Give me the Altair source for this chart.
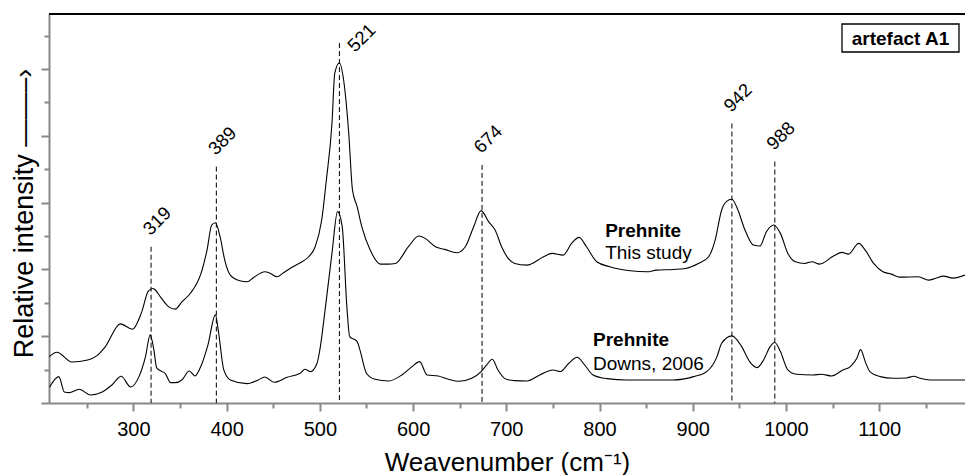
import altair as alt
import pandas as pd

# Raman spectrum of prehnite, this study: shift (cm-1) and intensity (a.u.)
study_shift = [210, 218, 234, 251, 261, 270, 286, 299, 309, 316, 321, 323, 329, 338, 345, 352, 361,
               373, 379, 384, 388, 393, 398, 404, 414, 422, 429, 441, 447, 454, 461, 468, 479, 488,
               495, 502, 507, 513, 516, 521, 525, 531, 535, 540, 545, 554, 565, 573, 581, 595, 606,
               613, 624, 634, 647, 656, 665, 673, 681, 688, 695, 702, 709, 722, 740, 749, 761, 770,
               778, 786, 797, 811, 833, 851, 861, 879, 892, 906, 917, 924, 931, 936, 942, 947, 956,
               965, 972, 979, 987, 994, 1002, 1010, 1020, 1028, 1036, 1051, 1060, 1067, 1078, 1085,
               1094, 1104, 1113, 1122, 1142, 1153, 1160, 1169, 1179, 1192]
study_int = [139, 152, 123, 129, 142, 169, 237, 221, 273, 335, 343, 340, 318, 288, 281, 303, 328,
             392, 458, 533, 540, 498, 428, 383, 366, 363, 376, 393, 388, 378, 390, 403, 420, 438,
             468, 548, 668, 837, 987, 1019, 977, 808, 638, 588, 528, 458, 416, 416, 418, 468, 500,
             493, 468, 460, 450, 468, 528, 576, 543, 518, 468, 433, 418, 413, 438, 448, 443, 478,
             496, 468, 423, 408, 396, 393, 398, 400, 403, 418, 438, 488, 578, 603, 610, 588, 518,
             473, 470, 513, 533, 508, 448, 423, 418, 423, 416, 440, 451, 446, 478, 458,
             418, 393, 386, 377, 378, 368, 373, 380, 374, 383]

# Reference spectrum of prehnite (Downs, 2006)
downs_shift = [210, 220, 226, 231, 242, 254, 266, 277, 287, 297, 306, 313, 318, 322, 325, 331, 334,
               340, 345, 352, 360, 366, 373, 380, 388, 391, 397, 404, 422, 434, 441, 451, 465, 479,
               484, 490, 497, 500, 506, 513, 519, 524, 529, 532, 540, 543, 550, 559, 574, 588, 599,
               607, 615, 627, 638, 649, 663, 673, 679, 685, 691, 700, 709, 722, 736, 750, 758, 767,
               776, 784, 793, 808, 829, 854, 879, 901, 915, 926, 931, 942, 952, 961, 969, 976, 983,
               988, 994, 1002, 1011, 1029, 1038, 1049, 1061, 1069, 1076, 1080, 1085, 1090, 1101,
               1115, 1129, 1137, 1144, 1154, 1192]
downs_int = [47, 79, 33, 31, 41, 24, 32, 54, 80, 48, 79, 139, 204, 159, 105, 94, 89,
             61, 61, 69, 96, 81, 114, 174, 264, 219, 99, 69, 58, 69, 78, 62, 77, 89,
             101, 94, 119, 159, 287, 448, 573, 528, 288, 199, 184, 159, 89, 71, 66, 84, 109,
             124, 84, 81, 71, 65, 74, 94, 114, 131, 99, 71, 67, 66, 84, 99, 94, 119,
             137, 114, 84, 73, 69, 69, 69, 79, 94, 139, 179, 201, 171, 124, 106, 129, 169,
             181, 154, 99, 86, 84, 86, 81, 99, 109, 134, 160, 124, 94, 79,
             74, 75, 80, 74, 69, 69]

# Marked band positions and the height of their guide lines
peak_pos = [319, 389, 521, 674, 942, 988]
peak_top = [468, 708, 1078, 713, 837, 723]

# Spectrum captions
cap_name = ["Prehnite", "Prehnite"]
cap_source = ["This study", "Downs, 2006"]
cap_x = [806, 793]
cap_name_y = [496, 171]
cap_source_y = [430, 99]

sample_label = ["artefact A1"]

FONT = "Liberation Sans"
W, H = 916, 389

spectra = pd.concat([
    pd.DataFrame({"shift": study_shift, "intensity": study_int, "series": "This study"}),
    pd.DataFrame({"shift": downs_shift, "intensity": downs_int, "series": "Downs, 2006"}),
])
peaks = pd.DataFrame({"peak": peak_pos, "top": peak_top, "label": [str(p) for p in peak_pos]})
captions = pd.DataFrame({"x": cap_x, "name": cap_name, "source": cap_source,
                         "name_y": cap_name_y, "source_y": cap_source_y})
sample = pd.DataFrame({"label": sample_label})

xscale = alt.Scale(domain=[209.5, 1192], nice=False, zero=False)
yscale = alt.Scale(domain=[0, 1165], nice=False, zero=False)

lines = alt.Chart(spectra).mark_line(
    color="black", strokeWidth=1.1, interpolate="monotone", clip=True
).encode(
    x=alt.X("shift:Q", scale=xscale, axis=alt.Axis(
        orient="bottom", values=list(range(300, 1200, 100)), format="d", tickSize=8,
        tickWidth=2, domainWidth=2, labelFontSize=20, labelPadding=8, labelFlush=False,
        title="Weavenumber (cm⁻¹)", titleFontSize=26, titleFontWeight="normal",
        titleY=67, titleBaseline="alphabetic", grid=False)),
    y=alt.Y("intensity:Q", scale=yscale, axis=alt.Axis(
        orient="left", values=list(range(0, 1001, 200)), labels=False, tickSize=8,
        tickWidth=2, domainWidth=2, title="Relative intensity ——–›", titleFontSize=27,
        titleFontWeight="normal", titleAngle=270, titleAlign="center",
        titleBaseline="alphabetic", titleX=-17, titleY=199, grid=False)),
    detail="series:N",
)

# dashed guides; this layer also carries the minor ticks
guides = alt.Chart(peaks).mark_rule(color="black", strokeWidth=1, strokeDash=[5, 3]).encode(
    x=alt.X("peak:Q", scale=xscale, axis=alt.Axis(
        orient="bottom", values=list(range(250, 1200, 100)), labels=False, tickSize=5,
        tickWidth=2, domain=False, title=None, grid=False)),
    y=alt.Y("top:Q", scale=yscale, axis=alt.Axis(
        orient="left", values=list(range(100, 1200, 200)), labels=False, tickSize=5,
        tickWidth=2, domain=False, title=None, grid=False)),
    y2=alt.datum(0),
)

label_base = alt.Chart(peaks).encode(
    x=alt.X("peak:Q", scale=xscale, axis=None),
    y=alt.Y("top:Q", scale=yscale, axis=None),
    text="label:N",
)
peak_labels = label_base.transform_filter("datum.peak != 521").mark_text(
    font=FONT, fontSize=18.5, angle=315, align="left", baseline="alphabetic", dx=7, dy=-8,
    color="black")
top_label = label_base.transform_filter("datum.peak == 521").mark_text(
    font=FONT, fontSize=18.5, angle=315, align="left", baseline="alphabetic", dx=4, dy=18,
    color="black")

cap_names = alt.Chart(captions).mark_text(
    font=FONT, fontSize=19, fontWeight="bold", align="left", baseline="alphabetic", color="black"
).encode(
    x=alt.X("x:Q", scale=xscale, axis=None),
    y=alt.Y("name_y:Q", scale=yscale, axis=None),
    text="name:N",
)
cap_sources = alt.Chart(captions).mark_text(
    font=FONT, fontSize=19, align="left", baseline="alphabetic", color="black"
).encode(
    x=alt.X("x:Q", scale=xscale, axis=None),
    y=alt.Y("source_y:Q", scale=yscale, axis=None),
    text="source:N",
)

box = alt.Chart(sample).mark_rect(fill="white", stroke="black", strokeWidth=1.3).encode(
    x=alt.value(793), x2=alt.value(910), y=alt.value(10), y2=alt.value(38))
box_text = alt.Chart(sample).mark_text(
    font=FONT, fontSize=19, fontWeight="bold", align="center", baseline="alphabetic",
    color="black"
).encode(x=alt.value(851.5), y=alt.value(31), text="label:N")

frame_top = alt.Chart(sample).mark_rule(color="black", strokeWidth=2).encode(
    x=alt.value(0), x2=alt.value(W), y=alt.value(0))

chart = alt.layer(
    lines, guides, peak_labels, top_label, cap_names, cap_sources, box, box_text, frame_top
).resolve_axis(x="independent", y="independent").properties(
    width=W, height=H, autosize=alt.AutoSizeParams(type="none"),
    padding={"left": 49, "top": 14, "right": 0, "bottom": 72},
).configure_view(stroke=None).configure_axis(
    domainColor="black", tickColor="black", labelColor="black", titleColor="black",
    labelFont=FONT, titleFont=FONT,
).configure(background="white")

chart.save("out.html", embed_options={"renderer": "svg", "actions": False})
